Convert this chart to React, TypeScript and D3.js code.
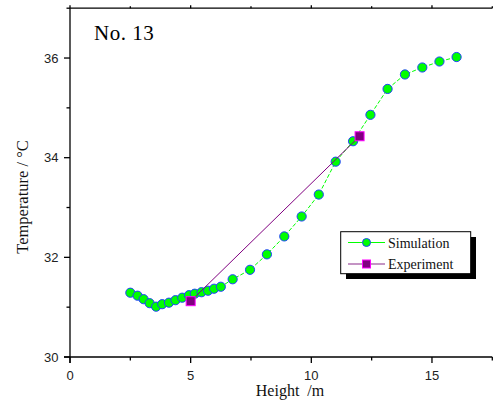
import React from "react";
import * as d3 from "d3";

const simX = [2.5, 2.8, 3.05, 3.3, 3.57, 3.82, 4.1, 4.37, 4.65, 4.93, 5.17, 5.45, 5.72, 5.97, 6.25, 6.74, 7.46, 8.16, 8.88, 9.6, 10.31, 11.01, 11.73, 12.45, 13.16, 13.88, 14.6, 15.31, 16.02];
const simY = [31.29, 31.23, 31.16, 31.08, 31.01, 31.06, 31.09, 31.14, 31.19, 31.24, 31.27, 31.3, 31.33, 31.37, 31.41, 31.56, 31.75, 32.06, 32.42, 32.82, 33.26, 33.92, 34.33, 34.86, 35.38, 35.67, 35.81, 35.93, 36.02];
const expX = [5, 12];
const expY = [31.12, 34.43];
const xTicks = [0, 5, 10, 15];
const xMinor = [2.5, 7.5, 12.5, 17.5];
const yTicks = [30, 32, 34, 36];
const yMinor = [31, 33, 35, 37];
const seriesNames = ["Simulation", "Experiment"];

const W = 497, H = 410;
const L = 70, R = 492.3, T = 8.2, B = 357;

export default function App() {
  const x = d3.scaleLinear().domain([0, 17.5]).range([L, R]);
  const y = d3.scaleLinear().domain([30, 37]).range([B, T]);
  const sim = simX.map((v, i) => [v, simY[i]] as [number, number]);
  const exp = expX.map((v, i) => [v, expY[i]] as [number, number]);
  const line = d3.line<[number, number]>().x(d => x(d[0])).y(d => y(d[1]));
  const green = "#00ff00";
  const purple = "#800080";
  return (
    <svg width={W} height={H} style={{ position: "absolute", left: 0, top: 0 }}>
      <rect width={W} height={H} fill="white" />
      {/* axes */}
      <line x1={L} x2={L} y1={T} y2={B + 6} stroke="#000" strokeWidth={1.3} />
      <line x1={L - 6} x2={R} y1={B} y2={B} stroke="#000" strokeWidth={1.3} />
      <line x1={L} x2={R} y1={T} y2={T} stroke="#000" strokeWidth={1.3} />
      {xTicks.map(t => (
        <g key={"xt" + t}>
          <line x1={x(t)} x2={x(t)} y1={B} y2={B + 6} stroke="#000" strokeWidth={1.3} />
          <line x1={x(t)} x2={x(t)} y1={T} y2={T - 3} stroke="#000" strokeWidth={1.3} />
          <text x={x(t)} y={380} textAnchor="middle" fontFamily="Liberation Sans, Arial, sans-serif" fontSize={13} fill="#222">{t}</text>
        </g>
      ))}
      {xMinor.map(t => (
        <g key={"xm" + t}>
          <line x1={x(t)} x2={x(t)} y1={B} y2={B + 3.5} stroke="#000" strokeWidth={1.3} />
          <line x1={x(t)} x2={x(t)} y1={T} y2={T - 2} stroke="#000" strokeWidth={1.3} />
        </g>
      ))}
      {yTicks.map(t => (
        <g key={"yt" + t}>
          <line x1={L - 6} x2={L} y1={y(t)} y2={y(t)} stroke="#000" strokeWidth={1.3} />
          <text x={58.5} y={y(t) + 4.5} textAnchor="end" fontFamily="Liberation Sans, Arial, sans-serif" fontSize={13} fill="#222">{t}</text>
        </g>
      ))}
      {yMinor.map(t => (
        <line key={"ym" + t} x1={L - 3.5} x2={L} y1={y(t)} y2={y(t)} stroke="#000" strokeWidth={1.3} />
      ))}
      {/* axis titles */}
      <text x={290} y={396} textAnchor="middle" fontFamily="Liberation Serif, Times New Roman, serif" fontSize={16} fill="#111" style={{ whiteSpace: "pre" }}>{"Height  /m"}</text>
      <text transform={`translate(27.5,197) rotate(-90)`} textAnchor="middle" fontFamily="Liberation Serif, Times New Roman, serif" fontSize={16.5} fill="#111">Temperature / °C</text>
      <text x={94} y={40} fontFamily="Liberation Serif, serif" fontSize={21} fill="#000" letterSpacing={0.5}>No. 13</text>
      {/* simulation */}
      <path d={line(sim) || ""} fill="none" stroke={green} strokeWidth={1} strokeDasharray="4,2" />
      {sim.map((d, i) => (
        <circle key={"s" + i} cx={x(d[0])} cy={y(d[1])} r={4.6} fill={green} stroke="#2040ff" strokeWidth={1} />
      ))}
      {/* experiment */}
      <path d={line(exp) || ""} fill="none" stroke={purple} strokeWidth={1} />
      {exp.map((d, i) => (
        <rect key={"e" + i} x={x(d[0]) - 4.5} y={y(d[1]) - 4.5} width={9} height={9} fill={purple} stroke="#ff00ff" strokeWidth={1} />
      ))}
      {/* legend */}
      <rect x={346} y={237} width={130} height={42} fill="#000" />
      <rect x={340.7} y={231.7} width={130} height={42} fill="#fff" stroke="#000" strokeWidth={1} />
      <line x1={348} x2={385} y1={242.5} y2={242.5} stroke={green} strokeWidth={1} />
      <circle cx={366.5} cy={242.5} r={4} fill={green} stroke="#2040ff" strokeWidth={1} />
      <text x={388} y={247.5} fontFamily="Liberation Serif, Times New Roman, serif" fontSize={14} fill="#111">{seriesNames[0]}</text>
      <line x1={348} x2={385} y1={264} y2={264} stroke="#b070b0" strokeWidth={1.3} />
      <rect x={362.5} y={260} width={8} height={8} fill={purple} stroke="#ff00ff" strokeWidth={1} />
      <text x={388} y={269} fontFamily="Liberation Serif, Times New Roman, serif" fontSize={14} fill="#111">{seriesNames[1]}</text>
    </svg>
  );
}
